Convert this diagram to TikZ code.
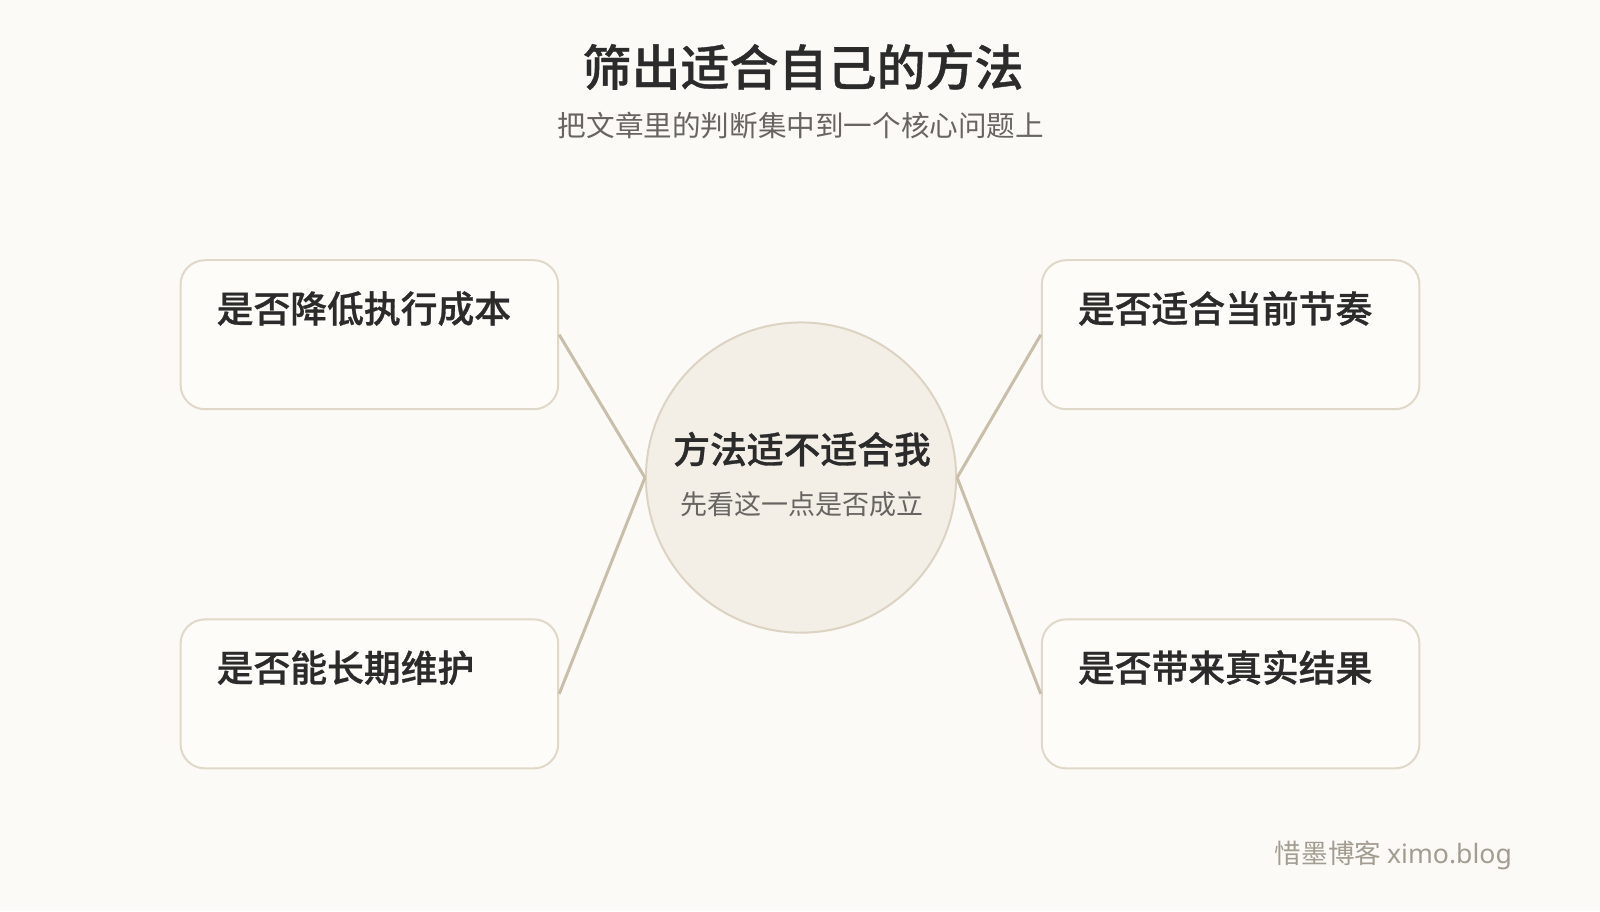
\documentclass[tikz,border=0pt]{standalone}
\usepackage{fontspec}
\setmainfont{Noto Sans CJK SC}[BoldFont={Noto Sans CJK SC Medium},BoldFeatures={FakeBold=0.8}]
\newfontfamily\wmlatin{Noto Sans}
\definecolor{bg}{HTML}{FBFAF7}
\definecolor{boxfill}{HTML}{FDFCF9}
\definecolor{boxline}{HTML}{E0D8C8}
\definecolor{circfill}{HTML}{F3EFE7}
\definecolor{circline}{HTML}{DCD3C3}
\definecolor{conn}{HTML}{C8BEAA}
\definecolor{ink}{HTML}{2B2B2B}
\definecolor{subink}{HTML}{676461}
\definecolor{wm}{HTML}{A39D91}
\begin{document}
\begin{tikzpicture}[x=0.5102pt,y=-0.5102pt,
  card/.style={draw=boxline, line width=1pt, fill=boxfill, rounded corners=12.2pt,
    minimum width=188.8pt, minimum height=74.5pt, inner sep=0pt},
  hub/.style={circle, draw=circline, line width=1pt, fill=circfill,
    minimum size=155.1pt, inner sep=0pt},
  cardtext/.style={anchor=base west, inner sep=0pt, text=ink, font=\fontsize{18.4pt}{20pt}\selectfont\bfseries},
  link/.style={draw=conn, line width=1.5pt}]
\useasboundingbox (0,0) rectangle (1568,892.8);
\fill[bg] (0,0) rectangle (1568,892.8);
% title
\node[anchor=base, inner sep=0pt, text=ink, font=\fontsize{24.5pt}{28pt}\selectfont\bfseries] (title) at (787,84) {筛出适合自己的方法};
\node[anchor=base, inner sep=0pt, text=subink, font=\fontsize{14.3pt}{16pt}\selectfont] (subtitle) at (785,134) {把文章里的判断集中到一个核心问题上};
% center
\node[hub] (c) at (785,468) {};
\node[anchor=base, inner sep=0pt, text=ink, font=\fontsize{18.4pt}{20pt}\selectfont\bfseries] (ct) at (786,454) {方法适不适合我};
\node[anchor=base, inner sep=0pt, text=subink, font=\fontsize{13.5pt}{15pt}\selectfont] (cs) at (786,504) {先看这一点是否成立};
% cards
\node[card] (b1) at (362,328) {};
\node[card] (b2) at (362,680) {};
\node[card] (b3) at (1206,328) {};
\node[card] (b4) at (1206,680) {};
\node[cardtext] (t1) at (212,316) {是否降低执行成本};
\node[cardtext] (t2) at (212,668) {是否能长期维护};
\node[cardtext] (t3) at (1056,316) {是否适合当前节奏};
\node[cardtext] (t4) at (1056,668) {是否带来真实结果};
% links
\draw[link] (b1.east) -- (c.west);
\draw[link] (b2.east) -- (c.west);
\draw[link] (b3.west) -- (c.east);
\draw[link] (b4.west) -- (c.east);
% watermark
\node[anchor=base east, inner sep=0pt, text=wm, font=\fontsize{13.3pt}{15pt}\selectfont] (wmk) at (1482,846) {惜墨博客 {\wmlatin ximo.blog}};
\end{tikzpicture}
\end{document}
